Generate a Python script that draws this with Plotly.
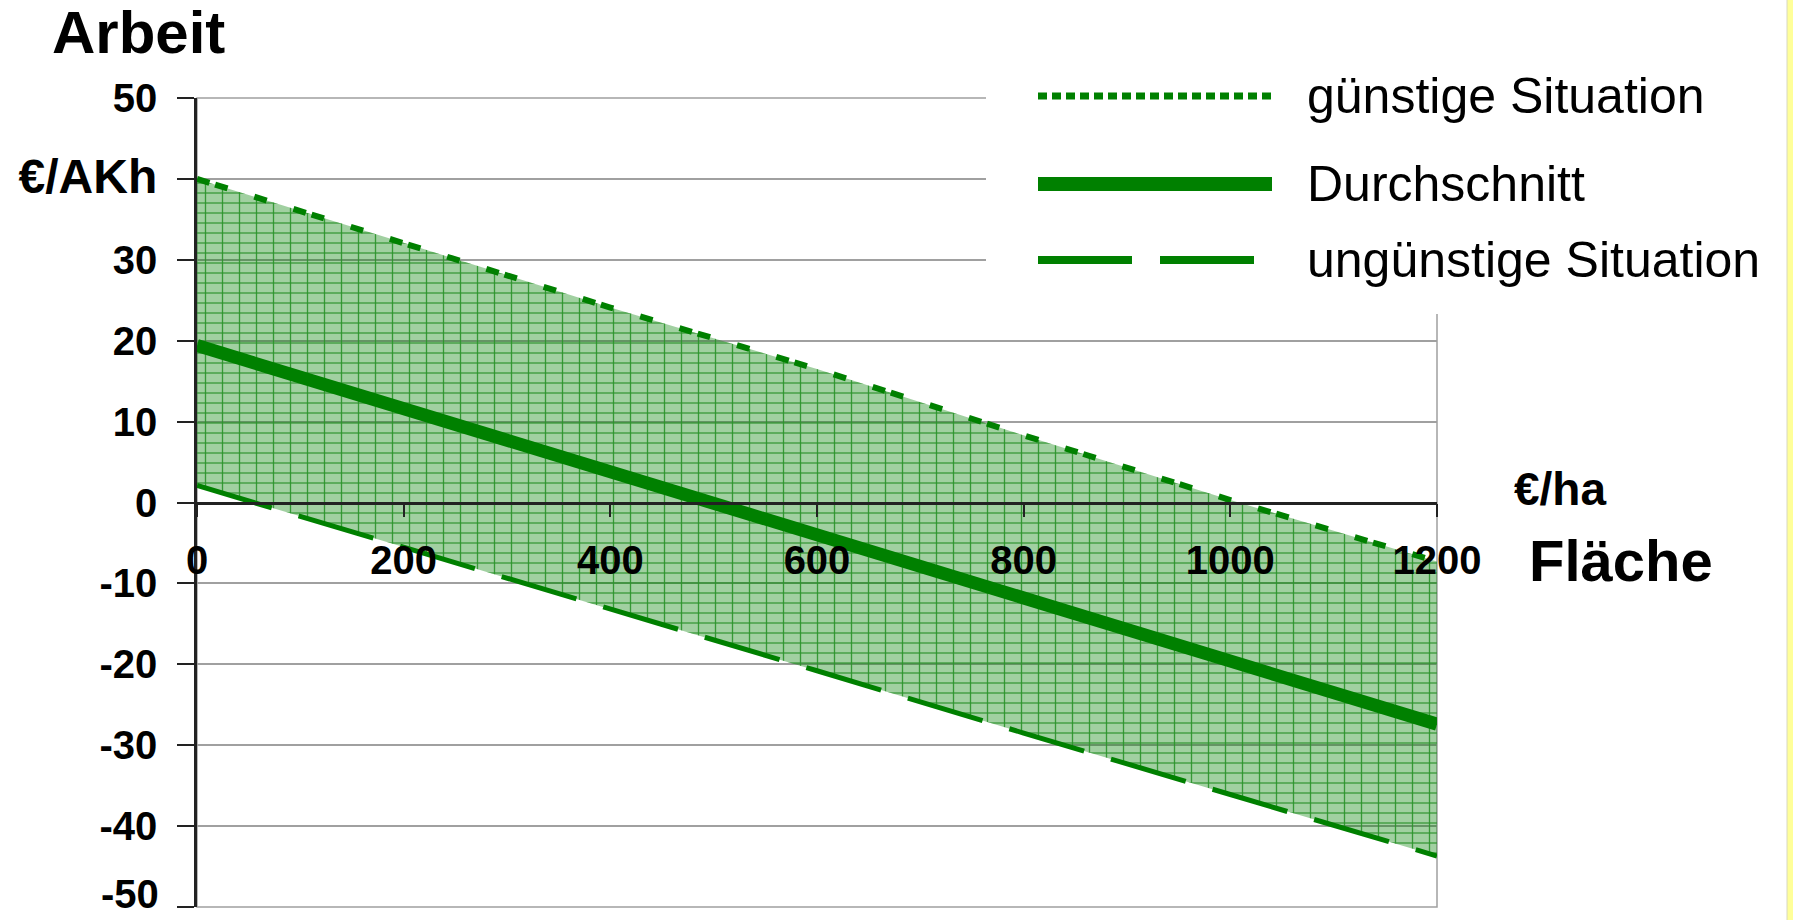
import plotly.graph_objects as go

# ---- data ----
flaeche = [0, 200, 400, 600, 800, 1000, 1200]          # €/ha
guenstig = [40, 32.1, 24.1, 16.5, 8.3, 0.3, -7.3]       # günstige Situation
durchschnitt = [19.4, 11.6, 3.9, -3.8, -11.6, -19.5, -27.4]  # Durchschnitt
unguenstig = [2.1, -5.5, -13.2, -20.8, -28.5, -36.1, -43.7]  # ungünstige Situation

y_ticks = [-50, -40, -30, -20, -10, 0, 10, 20, 30, 40, 50]
y_ticktext = ["", "-40", "-30", "-20", "-10", "0", "10", "20", "30",
              "<span style='font-size:48px'>€/AKh</span>", "50"]
y_bottom_label = "-50"
x_ticks = [0, 200, 400, 600, 800, 1000, 1200]
x_ticktext = ["0", "200", "400", "600", "800", "1000", "1200"]

names = ["günstige Situation", "Durchschnitt", "ungünstige Situation"]

GREEN = "#008000"
FONT = "Arial, Liberation Sans, sans-serif"

fig = go.Figure()

# band fill: vertical hatch layer
fig.add_trace(go.Scatter(x=flaeche, y=unguenstig, mode="lines",
                         line=dict(width=0, color="rgba(0,0,0,0)"),
                         showlegend=False, hoverinfo="skip"))
fig.add_trace(go.Scatter(x=flaeche, y=guenstig, mode="lines", fill="tonexty",
                         fillcolor="rgba(0,128,0,0.37)",
                         fillpattern=dict(shape="|", size=17, solidity=0.08,
                                          fgcolor="#2A922A", fgopacity=0.9,
                                          bgcolor="rgba(0,128,0,0.37)"),
                         line=dict(width=0, color="rgba(0,0,0,0)"),
                         showlegend=False, hoverinfo="skip"))
# band fill: horizontal hatch layer
fig.add_trace(go.Scatter(x=flaeche, y=unguenstig, mode="lines",
                         line=dict(width=0, color="rgba(0,0,0,0)"),
                         showlegend=False, hoverinfo="skip"))
fig.add_trace(go.Scatter(x=flaeche, y=guenstig, mode="lines", fill="tonexty",
                         fillcolor="rgba(0,0,0,0)",
                         fillpattern=dict(shape="-", size=10, solidity=0.13,
                                          fgcolor="#2A922A", fgopacity=0.9,
                                          bgcolor="rgba(0,0,0,0)"),
                         line=dict(width=0, color="rgba(0,0,0,0)"),
                         showlegend=False, hoverinfo="skip"))

# lines
fig.add_trace(go.Scatter(x=flaeche, y=unguenstig, mode="lines", name=names[2],
                         line=dict(color=GREEN, width=5, dash="78px,28px"),
                         showlegend=False))
fig.add_trace(go.Scatter(x=flaeche, y=guenstig, mode="lines", name=names[0],
                         line=dict(color=GREEN, width=6,
                                   dash="13px,6px,13px,28px,13px,28px"),
                         showlegend=False))
fig.add_trace(go.Scatter(x=flaeche, y=durchschnitt, mode="lines", name=names[1],
                         line=dict(color=GREEN, width=13),
                         showlegend=False))

# ---- layout geometry (pixels -> paper) ----
L, R, T, B = 197, 1437, 98, 907
W, H = 1793, 920
def px(xp):
    return (xp - L) / (R - L)
def py(yp):
    return (B - yp) / (B - T)

shapes = [
    # plot frame (gray)
    dict(type="rect", xref="x domain", yref="y domain", x0=0, x1=1, y0=0, y1=1,
         line=dict(color="#A0A0A0", width=1.5), layer="below"),
    # white legend box covering the upper right
    dict(type="rect", xref="paper", yref="paper", x0=px(986), x1=px(1787),
         y0=py(314), y1=py(-5), fillcolor="white", line=dict(width=0), layer="above"),
    # yellow strip at the right edge
    dict(type="rect", xref="paper", yref="paper", x0=px(1787), x1=px(1800),
         y0=py(930), y1=py(-10), fillcolor="#FFFF99",
         line=dict(color="#D8D8C0", width=1), layer="above"),
    # legend samples
    dict(type="line", xref="paper", yref="paper", x0=px(1038), x1=px(1272),
         y0=py(96), y1=py(96), line=dict(color=GREEN, width=7, dash="9px,5px"),
         layer="above"),
    dict(type="line", xref="paper", yref="paper", x0=px(1038), x1=px(1272),
         y0=py(184), y1=py(184), line=dict(color=GREEN, width=14), layer="above"),
    dict(type="line", xref="paper", yref="paper", x0=px(1038), x1=px(1272),
         y0=py(260), y1=py(260), line=dict(color=GREEN, width=8, dash="94px,28px"),
         layer="above"),
]

annotations = [
    dict(text="<b>Arbeit</b>", xref="paper", yref="paper", x=px(138), y=py(33),
         xanchor="center", yanchor="middle", showarrow=False,
         font=dict(family=FONT, size=60, color="black")),
    dict(text="<b>€/ha</b>", xref="paper", yref="paper", x=px(1560), y=py(489),
         xanchor="center", yanchor="middle", showarrow=False,
         font=dict(family=FONT, size=46, color="black")),
    dict(text="<b>Fläche</b>", xref="paper", yref="paper", x=px(1621), y=py(560),
         xanchor="center", yanchor="middle", showarrow=False,
         font=dict(family=FONT, size=58, color="black")),
    # bottom y tick label, kept fully inside the page
    dict(text="<b>" + y_bottom_label + "</b>", xref="paper", yref="y",
         x=px(160), y=-50, xanchor="right", yanchor="bottom", yshift=-10,
         borderpad=0, showarrow=False, font=dict(family=FONT, size=40, color="black")),
]
for name, yy in zip(names, [96, 184, 260]):
    annotations.append(dict(text=name, xref="paper", yref="paper", x=px(1305), y=py(yy),
                            xanchor="left", yanchor="middle", showarrow=False,
                            font=dict(family=FONT, size=50, color="black")))

fig.update_layout(
    width=W, height=H,
    margin=dict(l=L, r=W - R, t=T, b=H - B, pad=0),
    paper_bgcolor="white", plot_bgcolor="white",
    showlegend=False,
    shapes=shapes, annotations=annotations,
    font=dict(family=FONT, color="black"),
)
fig.update_xaxes(
    range=[0, 1200], tickvals=x_ticks, ticktext=x_ticktext,
    anchor="free", position=0.5,
    showline=True, linecolor="#222222", linewidth=2.5,
    ticks="outside", ticklen=13, tickwidth=2, tickcolor="#222222",
    ticklabelstandoff=9,
    tickfont=dict(family=FONT, size=40, weight="bold", color="black"),
    showgrid=False, zeroline=False,
)
fig.update_yaxes(
    range=[-50, 50], tickvals=y_ticks, ticktext=y_ticktext,
    showline=True, linecolor="#222222", linewidth=2.5,
    ticks="outside", ticklen=17, tickwidth=2, tickcolor="#222222",
    ticklabelstandoff=12,
    tickfont=dict(family=FONT, size=40, weight="bold", color="black"),
    showgrid=True, gridcolor="#A0A0A0", gridwidth=1.5, zeroline=False,
)

fig.write_html("out.html",
               config={"displayModeBar": False},
               post_script="document.body.style.margin='0';"
                           "document.body.style.overflow='hidden';")
